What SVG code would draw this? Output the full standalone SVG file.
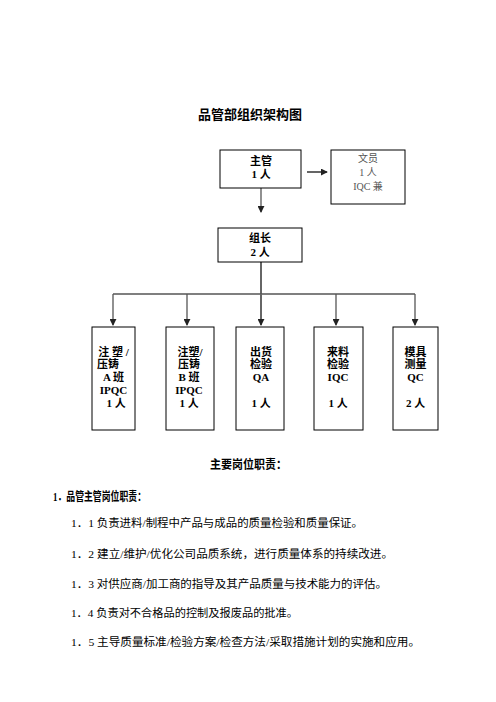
<svg xmlns="http://www.w3.org/2000/svg" width="496" height="702" viewBox="0 0 496 702">
<style>
text{font-family:"Liberation Serif","Noto Sans CJK SC",serif;fill:#000}
.b{font-weight:bold;font-size:11px}
.c{text-anchor:middle}
.g{fill:#555;font-size:10px}
.box{fill:#fff;stroke:#000;stroke-width:1}
.ln{stroke:#555;stroke-width:1.3;fill:none}
.body{font-size:11px}
</style>
<defs>
<marker id="ah" viewBox="0 0 8 8" refX="7" refY="4" markerWidth="7" markerHeight="7" markerUnits="userSpaceOnUse" orient="auto">
<path d="M0,0 L8,4 L0,8 z" fill="#222"/>
</marker>
</defs>
<rect width="496" height="702" fill="#fff"/>
<text x="250" y="119" class="c" style="font-size:13px;font-weight:bold">品管部组织架构图</text>

<g id="connectors">
<line x1="307" y1="172" x2="327" y2="172" stroke="#111" stroke-width="1.3" marker-end="url(#ah)"/>
<line x1="261" y1="188" x2="261" y2="212" class="ln" marker-end="url(#ah)"/>
<line x1="261" y1="262" x2="261" y2="294" stroke="#666" stroke-width="2"/>
<line x1="113" y1="294" x2="415" y2="294" class="ln"/>
<line x1="113" y1="294" x2="113" y2="325" class="ln" marker-end="url(#ah)"/>
<line x1="187" y1="294" x2="187" y2="325" class="ln" marker-end="url(#ah)"/>
<line x1="261" y1="294" x2="261" y2="325" stroke="#666" stroke-width="2" marker-end="url(#ah)"/>
<line x1="336" y1="294" x2="336" y2="325" class="ln" marker-end="url(#ah)"/>
<line x1="415" y1="294" x2="415" y2="325" class="ln" marker-end="url(#ah)"/>
</g>

<g id="zhuguan">
<rect x="220" y="150" width="81" height="38" class="box"/>
<text x="261" y="165" class="b c">主管</text>
<text x="261" y="178" class="b c">1 人</text>
</g>

<g id="wenyuan">
<rect x="331" y="150" width="74" height="54" class="box"/>
<text x="368" y="162" class="g c">文员</text>
<text x="368" y="176" class="g c">1 人</text>
<text x="368" y="190" class="g c">IQC 兼</text>
</g>

<g id="zuzhang">
<rect x="218" y="228" width="84" height="34" class="box"/>
<text x="260" y="242" class="b c">组长</text>
<text x="260" y="256" class="b c">2 人</text>
</g>

<g id="boxA">
<rect x="92" y="327" width="43" height="103" class="box"/>
<text x="113.5" y="356" class="b c">注 塑 /</text>
<text x="97" y="368" class="b">压铸</text>
<text x="113.5" y="381" class="b c">A 班</text>
<text x="113.5" y="394" class="b c">IPQC</text>
<text x="116" y="407" class="b c">1 人</text>
</g>

<g id="boxB">
<rect x="166" y="327" width="48" height="103" class="box"/>
<text x="190" y="356" class="b c">注塑/</text>
<text x="189" y="368" class="b c">压铸</text>
<text x="189" y="381" class="b c">B 班</text>
<text x="189" y="394" class="b c">IPQC</text>
<text x="189" y="407" class="b c">1 人</text>
</g>

<g id="boxQA">
<rect x="236" y="327" width="48" height="103" class="box"/>
<text x="261" y="356" class="b c">出货</text>
<text x="261" y="368" class="b c">检验</text>
<text x="261" y="381" class="b c">QA</text>
<text x="261" y="407" class="b c">1 人</text>
</g>

<g id="boxIQC">
<rect x="314" y="327" width="49" height="103" class="box"/>
<text x="338" y="356" class="b c">来料</text>
<text x="338" y="368" class="b c">检验</text>
<text x="338" y="381" class="b c">IQC</text>
<text x="338" y="407" class="b c">1 人</text>
</g>

<g id="boxQC">
<rect x="393" y="327" width="45" height="103" class="box"/>
<text x="415.5" y="356" class="b c">模具</text>
<text x="415.5" y="368" class="b c">测量</text>
<text x="415.5" y="381" class="b c">QC</text>
<text x="415.5" y="407" class="b c">2 人</text>
</g>

<text x="210" y="469" style="font-size:12px;font-weight:bold" textLength="77" lengthAdjust="spacingAndGlyphs">主要岗位职责：</text>
<text x="53" y="501" style="font-size:12px;font-weight:bold" textLength="93" lengthAdjust="spacingAndGlyphs">1．品管主管岗位职责：</text>
<text x="71" y="527" class="body" textLength="292" lengthAdjust="spacingAndGlyphs">1．1 负责进料/制程中产品与成品的质量检验和质量保证。</text>
<text x="71" y="558" class="body" textLength="322" lengthAdjust="spacingAndGlyphs">1．2 建立/维护/优化公司品质系统，进行质量体系的持续改进。</text>
<text x="71" y="588" class="body" textLength="316" lengthAdjust="spacingAndGlyphs">1．3 对供应商/加工商的指导及其产品质量与技术能力的评估。</text>
<text x="71" y="617" class="body" textLength="227" lengthAdjust="spacingAndGlyphs">1．4 负责对不合格品的控制及报废品的批准。</text>
<text x="71" y="646" class="body" textLength="349" lengthAdjust="spacingAndGlyphs">1．5 主导质量标准/检验方案/检查方法/采取措施计划的实施和应用。</text>
</svg>
